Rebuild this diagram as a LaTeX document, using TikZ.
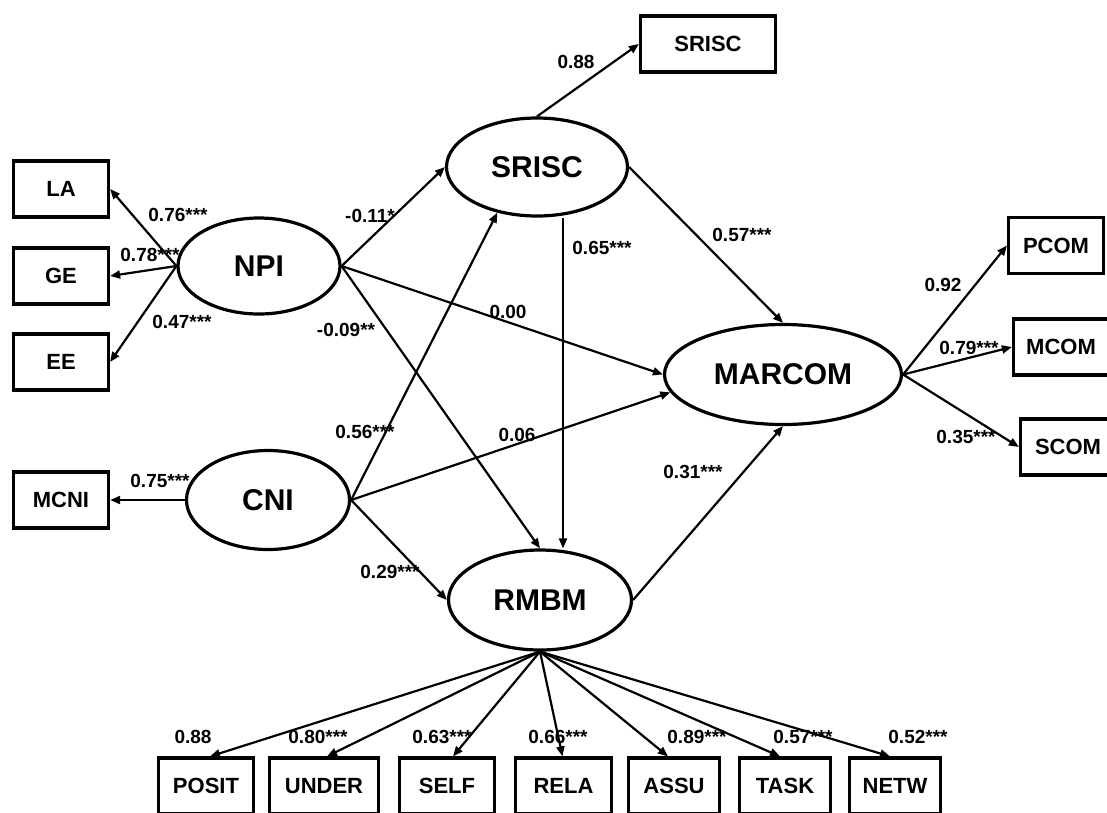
\documentclass[tikz,border=0pt]{standalone}
\usepackage{fontspec}
\setmainfont{Liberation Sans}
\usetikzlibrary{shapes.geometric,arrows.meta}
\begin{document}
\begin{tikzpicture}[x=1pt,y=-1pt,
 lat/.style={ellipse,draw,line width=3.2pt,inner sep=0pt,font=\fontsize{30}{30}\selectfont\bfseries},
 obs/.style={rectangle,draw,line width=3.2pt,inner sep=0pt,minimum height=56pt,font=\fontsize{22}{22}\selectfont\bfseries},
 arr/.style={line width=2.2pt,-{Triangle[length=10pt,width=8pt]}},
 coef/.style={font=\fontsize{19}{19}\selectfont\bfseries,inner sep=0pt}]
\useasboundingbox (0,0) rectangle (1107,812);
\clip (0,0) rectangle (1107,812);
% latent variables
\node[lat,minimum width=162pt,minimum height=96pt] (npi) at (259,266) {NPI};
\node[lat,minimum width=163pt,minimum height=99pt] (cni) at (268,500) {CNI};
\node[lat,minimum width=181pt,minimum height=98pt] (srisc) at (537,167) {SRISC};
\node[lat,minimum width=237pt,minimum height=100pt] (marcom) at (783,374.5) {MARCOM};
\node[lat,minimum width=183pt,minimum height=100pt] (rmbm) at (540,600) {RMBM};
% observed variables
\node[obs,minimum width=95pt] (la) at (61,189) {LA};
\node[obs,minimum width=95pt] (ge) at (61,276) {GE};
\node[obs,minimum width=95pt] (ee) at (61,362) {EE};
\node[obs,minimum width=95pt] (mcni) at (61,500) {MCNI};
\node[obs,minimum width=135pt] (sriscb) at (708,44) {SRISC};
\node[obs,minimum width=95pt] (pcom) at (1056,245.5) {PCOM};
\node[obs,minimum width=95pt] (mcom) at (1061,347) {MCOM};
\node[obs,minimum width=95pt] (scom) at (1068,447) {SCOM};
\node[obs,minimum width=95pt] (posit) at (206,786) {POSIT};
\node[obs,minimum width=109pt] (under) at (324,786) {UNDER};
\node[obs,minimum width=95pt] (self) at (447,786) {SELF};
\node[obs,minimum width=96pt] (rela) at (563.5,786) {RELA};
\node[obs,minimum width=91pt] (assu) at (674,786) {ASSU};
\node[obs,minimum width=91pt] (task) at (785,786) {TASK};
\node[obs,minimum width=91pt] (netw) at (895,786) {NETW};
% measurement paths
\draw[arr] (npi.west) -- (la.east);
\draw[arr] (npi.west) -- (ge.east);
\draw[arr] (npi.west) -- (ee.east);
\draw[arr] (cni.west) -- (mcni.east);
\draw[arr] (srisc.north) -- (sriscb.west);
\draw[arr] (marcom.east) -- (pcom.west);
\draw[arr] (marcom.east) -- (mcom.west);
\draw[arr] (marcom.east) -- (scom.west);
\draw[arr] (rmbm.south) -- ([xshift=4pt]posit.north);
\draw[arr] (rmbm.south) -- ([xshift=3pt]under.north);
\draw[arr] (rmbm.south) -- ([xshift=6pt]self.north);
\draw[arr] (rmbm.south) -- ([xshift=-1pt]rela.north);
\draw[arr] (rmbm.south) -- ([xshift=-6pt]assu.north);
\draw[arr] (rmbm.south) -- ([xshift=-5pt]task.north);
\draw[arr] (rmbm.south) -- ([xshift=-5pt]netw.north);
% structural paths
\draw[arr] (npi.east) -- (srisc.west);
\draw[arr] (npi.east) -- (marcom.west);
\draw[arr] (npi.east) -- (rmbm.north);
\draw[arr] (cni.east) -- (srisc.229);
\draw[arr] (cni.east) -- (marcom.189);
\draw[arr] (cni.east) -- (rmbm.west);
\draw[arr] ([xshift=26pt]srisc.south) -- ([xshift=23pt]rmbm.north);
\draw[arr] (srisc.east) -- (marcom.north);
\draw[arr] (rmbm.east) -- (marcom.south);
% coefficients
\node[coef] (c1) at (178,215) {0.76***};
\node[coef] (c2) at (150,255) {0.78***};
\node[coef] (c3) at (182,322) {0.47***};
\node[coef] (c4) at (160,481) {0.75***};
\node[coef] (c5) at (370,216) {-0.11*};
\node[coef] (c6) at (346,330) {-0.09**};
\node[coef] (c7) at (508,312) {0.00};
\node[coef] (c8) at (365,432) {0.56***};
\node[coef] (c9) at (517,435) {0.06};
\node[coef] (c10) at (390,572) {0.29***};
\node[coef] (c11) at (576,62) {0.88};
\node[coef] (c12) at (602,248) {0.65***};
\node[coef] (c13) at (742,235) {0.57***};
\node[coef] (c14) at (693,472) {0.31***};
\node[coef] (c15) at (943,285) {0.92};
\node[coef] (c16) at (969,348) {0.79***};
\node[coef] (c17) at (966,437) {0.35***};
\node[coef] (c18) at (193,737) {0.88};
\node[coef] (c19) at (318,737) {0.80***};
\node[coef] (c20) at (442,737) {0.63***};
\node[coef] (c21) at (558,737) {0.66***};
\node[coef] (c22) at (697,737) {0.89***};
\node[coef] (c23) at (803,737) {0.57***};
\node[coef] (c24) at (918,737) {0.52***};
\end{tikzpicture}
\end{document}
